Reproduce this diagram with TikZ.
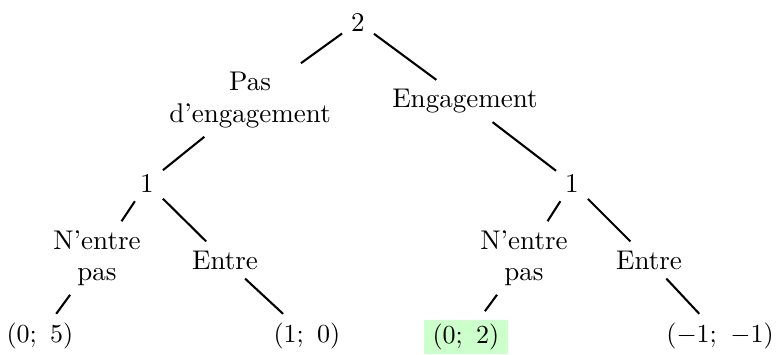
\documentclass[tikz,border=0pt]{standalone}
\usepackage{xcolor}
\definecolor{payoffgreen}{RGB}{204,255,204}
\begin{document}
\begin{tikzpicture}[x=0.3846pt,y=-0.3846pt,
  every node/.style={font=\fontsize{10.4}{12}\selectfont},
  lbl/.style={align=center},
  edge/.style={line width=0.8pt}]
\useasboundingbox (0,0) rectangle (784,354);
\node (r) at (358,22) {2};
\node[lbl] (pe) at (250,100) {Pas\\d'engagement};
\node[lbl] (en) at (465,101) {Engagement};
\node (a) at (147,183) {1};
\node (b) at (572,183) {1};
\node[lbl] (anp) at (97,258) {N'entre\\pas};
\node[lbl] (ae) at (225,260) {Entre};
\node[lbl] (bnp) at (524,258) {N'entre\\pas};
\node[lbl] (be) at (649,260) {Entre};
\node (l1) at (40,336) {$(0;\ 5)$};
\node (l2) at (307,336) {$(1;\ 0)$};
\node[fill=payoffgreen,inner ysep=1.5pt] (l3) at (466,337) {$(0;\ 2)$};
\node (l4) at (720,336) {$(-1;\ -1)$};
\draw[edge] (r) -- (pe);
\draw[edge] (r) -- (en);
\draw[edge] (pe) -- (a);
\draw[edge] (en) -- (b);
\draw[edge] (a) -- (anp);
\draw[edge] (a) -- (ae);
\draw[edge] (b) -- (bnp);
\draw[edge] (b) -- (be);
\draw[edge] (anp) -- (l1);
\draw[edge] (ae) -- (l2);
\draw[edge,shorten >=4pt] (bnp) -- (l3);
\draw[edge] (be) -- (l4);
\end{tikzpicture}
\end{document}
